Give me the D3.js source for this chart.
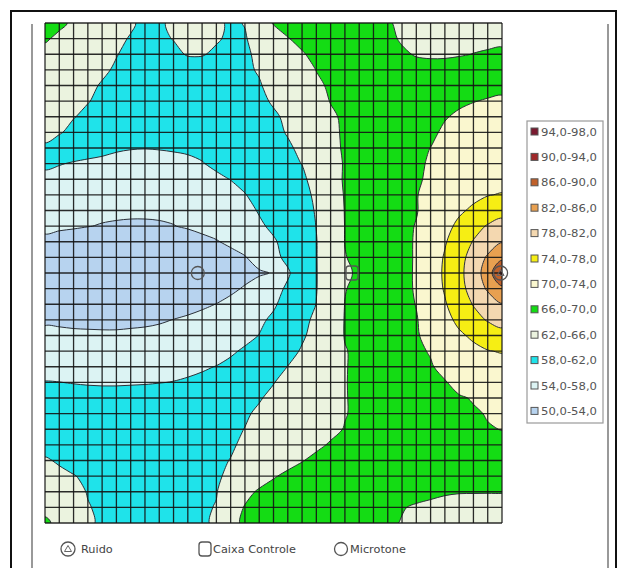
<!DOCTYPE html>
<html>
<head>
<meta charset="utf-8">
<script src="https://cdn.jsdelivr.net/npm/d3@7"></script>
<style>
  html, body { margin: 0; padding: 0; background: #fff; }
  svg { display: block; font-family: "DejaVu Sans", Verdana, sans-serif; }
</style>
</head>
<body>
<svg id="chart" width="624" height="568"></svg>
<script>
// Sound pressure level (dB) at the mesh nodes, 33 x 33, first row at the top.
const levelRows = [
  [67.5,66.5,65.6,64.8,64.0,63.2,62.4,61.3,61.7,62.4,63.2,63.5,62.5,61.6,62.1,64.1,66.2,66.8,67.3,67.7,68.0,67.9,67.5,66.9,66.2,65.6,65.2,64.9,64.6,64.4,64.2,64.1,64.0],
  [66.3,65.5,64.8,64.1,63.3,62.6,61.8,61.2,61.5,62.1,62.8,62.9,62.3,61.5,61.8,63.1,64.5,65.9,66.6,67.2,67.6,67.9,67.8,67.3,66.6,65.7,65.4,65.3,65.3,65.3,65.3,65.3,65.3],
  [65.2,64.7,64.1,63.5,62.9,62.1,61.4,60.9,60.9,61.4,62.2,62.2,61.5,61.0,61.6,62.5,63.6,64.7,65.8,66.6,67.1,67.5,67.6,67.4,67.0,66.4,65.8,65.6,65.6,65.8,66.05,66.3,66.6],
  [64.8,64.2,63.6,63.0,62.4,61.7,61.1,60.7,60.5,60.5,60.6,60.6,60.8,61.1,61.6,62.2,63.0,64.0,65.0,66.05,66.5,66.9,67.1,67.2,67.2,67.1,67.0,67.0,67.1,67.2,67.4,67.6,67.9],
  [64.3,63.7,63.1,62.5,61.8,61.2,60.6,60.2,60.0,59.9,59.9,60.0,60.3,60.7,61.2,61.8,62.8,63.8,64.7,65.6,66.3,66.9,67.3,67.6,67.8,68.0,68.1,68.2,68.4,68.6,68.8,69.0,69.2],
  [64.0,63.3,62.7,62.1,61.5,60.9,60.3,59.8,59.5,59.3,59.3,59.4,59.7,60.1,60.6,61.4,62.3,63.1,64.1,65.0,66.1,66.7,67.2,67.6,68.0,68.3,68.6,68.9,69.2,69.5,69.9,70.23,70.5],
  [63.4,62.7,62.1,61.5,60.9,60.3,59.8,59.4,59.1,59.0,59.0,59.1,59.3,59.7,60.2,60.8,61.6,62.5,63.5,64.5,65.6,66.4,67.0,67.5,68.0,68.5,69.0,69.4,69.8,70.47,71.03,71.37,71.43],
  [62.8,62.2,61.4,60.8,60.2,59.7,59.2,58.8,58.5,58.4,58.4,58.5,58.7,59.1,59.6,60.4,61.3,62.2,63.3,64.4,65.5,66.3,66.9,67.5,68.2,68.9,69.1,69.4,70.5,71.37,71.47,71.6,71.73],
  [61.6,60.8,60.1,59.4,58.8,58.3,58.1,58.05,58.1,58.2,58.3,58.5,58.7,59.0,59.5,60.1,60.8,61.6,62.6,63.9,65.3,66.3,66.9,67.5,68.2,68.8,69.4,70.03,71.37,71.53,71.7,71.9,72.07],
  [58.8,58.2,57.7,57.4,57.3,57.2,57.2,57.2,57.3,57.4,57.6,57.9,58.4,58.9,59.5,60.1,60.8,61.4,62.05,63.5,65.0,66.2,66.8,67.4,68.0,68.7,69.2,70.5,71.47,71.67,71.9,72.13,72.37],
  [56.8,56.6,56.4,56.3,56.2,56.2,56.2,56.3,56.4,56.6,56.9,57.2,57.6,58.05,58.7,59.4,60.1,60.8,61.5,63.0,64.8,66.3,66.9,67.4,67.9,68.6,69.0,71.27,71.63,71.97,72.3,72.63,72.77],
  [55.6,55.5,55.4,55.3,55.2,55.2,55.2,55.3,55.4,55.6,55.9,56.2,56.7,57.3,57.9,58.8,59.6,60.4,61.3,62.4,64.3,66.2,66.8,67.3,67.8,69.0,69.8,71.4,71.97,72.5,73.17,73.87,74.2],
  [54.8,54.7,54.6,54.5,54.4,54.35,54.3,54.3,54.35,54.4,54.6,54.9,55.4,56.1,57.2,58.2,59.1,60.0,61.0,62.2,64.1,66.1,66.7,67.3,67.9,69.0,69.8,71.5,72.33,73.47,74.6,75.7,76.75],
  [54.4,54.3,54.2,54.05,53.9,53.8,53.75,53.75,53.8,53.95,54.2,54.6,55.2,55.9,56.7,57.6,58.5,59.5,60.6,62.05,64.0,66.05,66.7,67.3,67.9,69.1,70.17,71.67,72.93,74.8,76.7,78.3,79.3],
  [53.6,53.3,53.1,52.9,52.8,52.7,52.7,52.7,52.8,52.9,53.1,53.4,53.8,54.6,55.6,56.7,57.7,58.9,60.3,61.9,64.0,66.05,66.7,67.3,67.9,69.2,70.27,71.9,73.7,76.0,78.2,80.0,81.8],
  [53.0,52.7,52.4,52.2,52.0,51.9,51.8,51.8,51.8,51.9,52.0,52.2,52.5,53.0,53.8,55.4,57.2,58.7,60.3,61.9,63.9,65.9,66.6,67.3,67.9,69.2,70.27,72.1,74.3,76.7,79.5,82.5,84.9],
  [52.6,52.3,52.0,51.8,51.6,51.5,51.4,51.4,51.4,51.5,51.6,51.8,52.1,52.5,53.0,53.6,54.2,57.6,60.0,61.9,63.6,65.3,66.6,67.3,67.9,69.2,70.3,72.2,74.5,77.0,80.0,83.8,91.0],
  [52.7,52.4,52.1,51.9,51.7,51.6,51.6,51.6,51.7,51.8,52.0,52.3,52.7,53.4,54.3,55.5,56.9,58.5,60.2,61.9,63.9,65.9,66.6,67.3,67.9,69.2,70.27,72.1,74.3,76.7,79.5,82.5,84.9],
  [53.1,52.9,52.7,52.5,52.4,52.4,52.4,52.5,52.6,52.8,53.1,53.5,54.05,54.8,55.7,56.7,57.7,58.9,60.3,62.05,64.0,66.05,66.6,67.2,67.8,69.0,70.1,71.83,73.7,76.0,78.2,80.0,81.8],
  [53.7,53.6,53.5,53.4,53.3,53.3,53.4,53.5,53.7,54.05,54.4,54.9,55.5,56.1,56.8,57.6,58.4,59.6,61.1,62.7,64.6,66.1,66.6,67.1,67.6,68.9,69.8,71.53,72.93,74.8,76.7,78.3,79.3],
  [54.5,54.5,54.4,54.4,54.4,54.4,54.5,54.6,54.8,55.1,55.4,55.8,56.3,56.8,57.4,58.05,58.9,60.0,61.6,63.0,64.7,66.1,66.5,67.0,67.5,68.8,69.6,71.35,72.27,73.47,74.6,75.7,76.75],
  [55.8,55.8,55.8,55.8,55.8,55.9,56.0,56.1,56.3,56.5,56.7,57.0,57.3,57.7,58.3,59.0,59.8,61.0,62.3,63.4,64.7,65.9,66.4,66.9,67.4,68.7,69.2,70.33,71.8,72.5,73.17,73.87,74.2],
  [57.0,57.0,57.0,57.0,57.0,57.0,57.1,57.2,57.3,57.4,57.6,57.8,58.05,58.5,59.0,59.8,60.8,62.05,63.0,63.9,64.9,65.9,66.4,66.9,67.4,68.7,69.3,69.6,71.37,71.97,72.3,72.63,72.77],
  [58.1,58.03,57.9,57.8,57.75,57.75,57.8,57.85,57.95,58.05,58.2,58.4,58.7,59.1,59.8,60.8,61.9,62.9,63.6,64.3,65.0,65.9,66.5,67.1,67.7,68.3,68.8,69.3,69.7,71.43,71.7,72.0,72.3],
  [59.2,59.1,59.0,58.9,58.85,58.85,58.9,58.95,59.0,59.1,59.3,59.5,59.8,60.3,61.0,61.8,62.6,63.3,64.0,64.6,65.2,65.9,66.4,66.9,67.4,67.9,68.4,68.9,69.3,69.6,70.27,71.5,71.77],
  [59.6,59.5,59.4,59.35,59.3,59.3,59.35,59.4,59.5,59.7,59.9,60.2,60.6,61.1,61.7,62.4,63.0,63.6,64.2,64.8,65.3,65.9,66.4,66.9,67.3,67.7,68.1,68.5,68.9,69.3,69.6,70.2,71.27],
  [60.0,59.9,59.8,59.8,59.75,59.75,59.8,59.9,60.0,60.2,60.4,60.7,61.1,61.5,62.05,62.6,63.2,63.8,64.4,64.9,65.5,66.1,66.6,67.0,67.4,67.8,68.2,68.6,68.9,69.2,69.5,69.8,70.07],
  [61.0,60.7,60.5,60.4,60.3,60.3,60.3,60.4,60.5,60.7,60.9,61.2,61.5,61.8,62.3,63.0,63.7,64.4,65.0,65.6,66.2,66.6,67.0,67.3,67.6,67.9,68.1,68.3,68.5,68.7,68.9,69.0,69.2],
  [62.3,61.7,61.2,60.9,60.8,60.7,60.7,60.8,60.9,61.0,61.2,61.4,61.7,62.05,62.8,63.6,64.4,65.2,65.9,66.5,66.9,67.2,67.4,67.6,67.8,67.9,68.0,68.1,68.2,68.2,68.2,68.2,68.2],
  [63.0,62.6,62.1,61.6,61.3,61.2,61.1,61.1,61.2,61.3,61.4,61.6,61.8,62.3,63.4,64.6,65.8,66.5,66.9,67.2,67.4,67.5,67.6,67.6,67.6,67.5,67.4,67.3,67.3,67.2,67.2,67.2,67.2],
  [63.6,63.1,62.6,61.9,61.6,61.4,61.3,61.3,61.3,61.4,61.6,61.8,61.9,63.4,65.1,66.4,66.9,67.2,67.4,67.5,67.5,67.5,67.4,67.3,67.1,66.9,66.6,66.4,66.2,66.1,66.1,66.1,66.1],
  [64.5,63.5,62.9,62.1,61.7,61.5,61.4,61.3,61.3,61.4,61.5,61.7,62.1,64.3,66.2,66.8,67.1,67.3,67.4,67.4,67.3,67.2,67.0,66.8,66.5,66.1,65.8,65.6,65.4,65.3,65.2,65.1,65.1],
  [67.0,64.6,63.4,62.3,61.7,61.5,61.4,61.3,61.3,61.4,61.5,61.7,62.3,65.0,66.6,67.0,67.2,67.3,67.3,67.3,67.2,67.1,66.9,66.6,66.3,65.9,65.5,65.2,65.0,64.8,64.7,64.6,64.5]
];

// Lower edge of each level band (dB) and its fill colour.
const bandThresholds = [50, 54, 58, 62, 66, 70, 74, 78, 82, 86, 90, 94];
const bandColors = ["#b7d3ef", "#dcf3f3", "#1fe3ea", "#ebf3df", "#14dc14", "#faf7cf",
                    "#f6ee14", "#f4d8b0", "#e8a050", "#c0602a", "#a0282a", "#7a1a30"];
const legendLabels = ["94,0-98,0", "90,0-94,0", "86,0-90,0", "82,0-86,0", "78,0-82,0", "74,0-78,0",
                      "70,0-74,0", "66,0-70,0", "62,0-66,0", "58,0-62,0", "54,0-58,0", "50,0-54,0"];

// Sources on the mesh, in node units (column, row).
const sourceNames = ["Ruido", "Caixa Controle", "Microtone"];
const sourceCols = [31.9, 21.5, 10.7];
const sourceRows = [16, 16, 16];

const svg = d3.select("#chart");
const plot = { left: 45, top: 23, right: 502, bottom: 523 };
const nx = levelRows[0].length, ny = levelRows.length;
const x = d3.scaleLinear().domain([0, nx - 1]).range([plot.left, plot.right]);
const y = d3.scaleLinear().domain([0, ny - 1]).range([plot.top, plot.bottom]);

// outer frame
svg.append("rect").attr("x", 11).attr("y", 11).attr("width", 605).attr("height", 570)
  .attr("fill", "none").attr("stroke", "#111").attr("stroke-width", 2);
svg.append("line").attr("x1", 32).attr("x2", 32).attr("y1", 24).attr("y2", 568)
  .attr("stroke", "#777").attr("stroke-width", 1.5);
svg.append("line").attr("x1", 608).attr("x2", 608).attr("y1", 24).attr("y2", 568)
  .attr("stroke", "#777").attr("stroke-width", 1.5);

const defs = svg.append("defs");
defs.append("clipPath").attr("id", "plotClip").append("rect")
  .attr("x", plot.left).attr("y", plot.top)
  .attr("width", plot.right - plot.left).attr("height", plot.bottom - plot.top);

// contour bands
const contours = d3.contours().size([nx, ny]).thresholds(bandThresholds)(levelRows.flat());
const ringLine = d3.line()
  .x(p => x(p[0] - 0.5))
  .y(p => y(p[1] - 0.5))
  .curve(d3.curveCatmullRomClosed.alpha(0.5));
const geomPath = g => g.coordinates.map(poly => poly.map(r => ringLine(r.slice(0, -1))).join("")).join("");

const map = svg.append("g").attr("clip-path", "url(#plotClip)");
map.selectAll("path.band").data(contours).join("path")
  .attr("class", "band")
  .attr("d", geomPath)
  .attr("fill-rule", "evenodd")
  .attr("fill", (d, i) => bandColors[i]);

map.selectAll("path.iso").data(contours.slice(1)).join("path")
  .attr("class", "iso")
  .attr("d", geomPath)
  .attr("fill", "none")
  .attr("stroke", "#2b3038")
  .attr("stroke-width", 1);

// mesh
const mesh = svg.append("g").attr("stroke", "#141414").attr("stroke-width", 1.3).attr("stroke-opacity", 0.9);
mesh.selectAll("line.v").data(d3.range(nx)).join("line").attr("class", "v")
  .attr("x1", d => x(d)).attr("x2", d => x(d)).attr("y1", plot.top).attr("y2", plot.bottom);
mesh.selectAll("line.h").data(d3.range(ny)).join("line").attr("class", "h")
  .attr("y1", d => y(d)).attr("y2", d => y(d)).attr("x1", plot.left).attr("x2", plot.right);

// source symbols
function drawSymbol(g, kind, cx, cy) {
  if (kind === 0) {
    g.append("circle").attr("cx", cx).attr("cy", cy).attr("r", 7)
      .attr("fill", "none").attr("stroke", "#555").attr("stroke-width", 1.3);
    g.append("path").attr("d", `M${cx - 3.5},${cy + 2.5}L${cx},${cy - 3.5}L${cx + 3.5},${cy + 2.5}Z`)
      .attr("fill", "none").attr("stroke", "#666").attr("stroke-width", 1);
  } else if (kind === 1) {
    g.append("rect").attr("x", cx - 6).attr("y", cy - 7).attr("width", 12).attr("height", 14).attr("rx", 3)
      .attr("fill", "none").attr("stroke", "#555").attr("stroke-width", 1.3);
  } else {
    g.append("circle").attr("cx", cx).attr("cy", cy).attr("r", 6.5)
      .attr("fill", "none").attr("stroke", "#555").attr("stroke-width", 1.3);
  }
}
const marks = svg.append("g");
sourceNames.forEach((name, k) => drawSymbol(marks, k, x(sourceCols[k]), y(sourceRows[k])));

// level legend
const lg = svg.append("g");
lg.append("rect").attr("x", 527).attr("y", 121).attr("width", 76).attr("height", 302)
  .attr("fill", "#fff").attr("stroke", "#9a9a9a").attr("stroke-width", 1.2);
legendLabels.forEach((lab, i) => {
  const yy = 132 + i * 25.4;
  lg.append("rect").attr("x", 531).attr("y", yy - 4).attr("width", 7).attr("height", 7)
    .attr("fill", bandColors[bandColors.length - 1 - i]).attr("stroke", "#555").attr("stroke-width", 1);
  lg.append("text").attr("x", 541).attr("y", yy + 3.5).attr("font-size", 10).attr("fill", "#555")
    .attr("textLength", 56).attr("lengthAdjust", "spacingAndGlyphs")
    .text(lab);
});

// source legend
const sl = svg.append("g");
const keyX = [68, 205, 341];
const textX = [81, 213, 350];
sourceNames.forEach((name, k) => {
  drawSymbol(sl, k, keyX[k], 549);
  sl.append("text").attr("x", textX[k]).attr("y", 553).attr("font-size", 11.3).attr("fill", "#444").text(name);
});
</script>
</body>
</html>
